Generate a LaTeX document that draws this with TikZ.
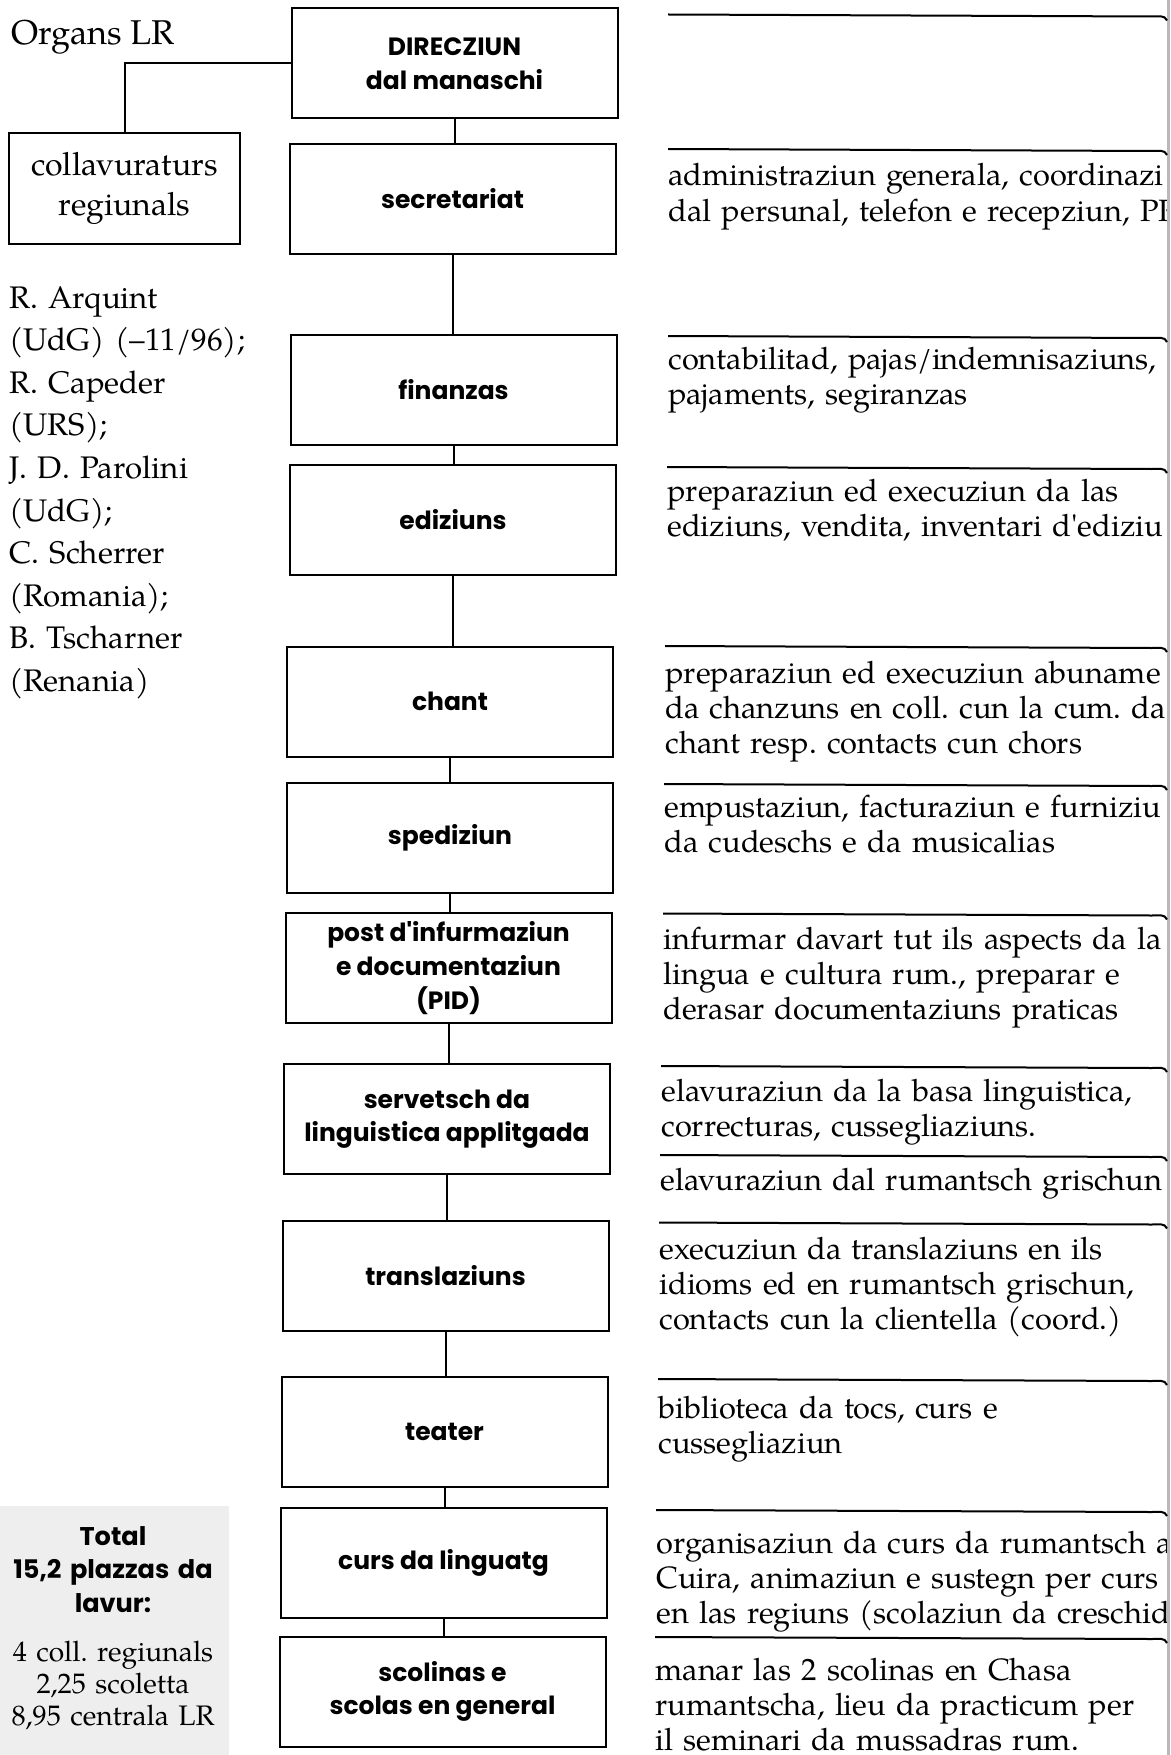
\documentclass[tikz,border=0pt]{standalone}
\usepackage{fontspec}
\setmainfont{TeX Gyre Pagella}[Ligatures=TeXOff]
\newfontfamily\boxfont{Poppins}
\frenchspacing
\tikzset{
  unitbox/.style={draw, line width=1pt, minimum width=163pt, minimum height=55pt,
    align=center, inner sep=0pt, font=\boxfont\bfseries\fontsize{12.5}{16.8}\selectfont},
  desc/.style={anchor=base west, text width=330pt, align=left, inner sep=0pt,
    font=\frenchspacing\fontsize{15.4}{17.5}\selectfont},
  sidetext/.style={anchor=base west, text width=160pt, align=left, inner sep=0pt,
    font=\frenchspacing\fontsize{15.6}{21.3}\selectfont},
  hrule/.style={line width=1pt},
  link/.style={line width=1pt},
}
\begin{document}
\begin{tikzpicture}[x=0.5pt,y=-0.5pt]
\useasboundingbox (0,0) rectangle (1171,1755);
\clip (0,0) rectangle (1171,1755);
\fill[white] (0,0) rectangle (1171,1755);
% total panel
\fill[gray!13] (0,1506) rectangle (229,1755);
% page edge
\draw[gray!55, line width=1.5pt] (1168,0) -- (1168,1755);

% main boxes
\node[unitbox] (dir) at (454.5,63.5) {DIRECZIUN\\dal manaschi};
\node[unitbox] (sec) at (452.5,199) {secretariat};
\node[unitbox] (fin) at (453.5,389.5) {finanzas};
\node[unitbox] (edi) at (453,520) {ediziuns};
\node[unitbox] (cha) at (450,701.5) {chant};
\node[unitbox] (spe) at (450,838) {spediziun};
\node[unitbox] (pid) at (448.5,968) {post d'infurmaziun\\e documentaziun\\(PID)};
\node[unitbox] (ser) at (447,1119) {servetsch da\\linguistica applitgada};
\node[unitbox] (tra) at (445.5,1276) {translaziuns};
\node[unitbox] (tea) at (444.5,1432) {teater};
\node[unitbox] (cur) at (443.5,1562.5) {curs da linguatg};
\node[unitbox] (sco) at (442.5,1691.5) {scolinas e\\scolas en general};

\foreach \a/\b in {dir/sec,sec/fin,fin/edi,edi/cha,cha/spe,spe/pid,pid/ser,ser/tra,tra/tea,tea/cur,cur/sco}
  \draw[link] (\a.south) -- (\a.south |- \b.north);

% left side
\node[anchor=base west, inner sep=0pt, font=\fontsize{17.2}{20}\selectfont] (org) at (11,45) {Organs LR};
\node[draw, line width=1pt, minimum width=115.5pt, minimum height=55.5pt, align=center,
  inner sep=0pt, font=\fontsize{16}{19.6}\selectfont] (col) at (124.5,188.5) {collavuraturs\\regiunals};
\draw[link] (dir.west) -| (col.north);

\node[sidetext] (names) at (9,308) {R. Arquint\\(UdG) (–11/96);\\R. Capeder\\(URS);\\J. D. Parolini\\(UdG);\\C. Scherrer\\(Romania);\\B. Tscharner\\(Renania)};

\node[anchor=base, text width=110pt, align=center, inner sep=0pt,
  font=\boxfont\bfseries\fontsize{12.8}{16.8}\selectfont] (tot) at (113,1545) {Total\\15,2 plazzas da\\lavur:};
\node[anchor=base, text width=112pt, align=center, inner sep=0pt,
  font=\fontsize{14.1}{16}\selectfont] (totn) at (113,1661) {4 coll. regiunals\\2,25 scoletta\\8,95 centrala LR};

% right side rules
\foreach \y/\x in {14.5/668,149/668,336/668,467/667,646/665,784/664,913.5/663,1066/661,1155/660,1222.5/659,1379/658,1510/656,1637/655}
  \draw[hrule] (\x,\y) -- (1152,\y+2) to[out=0,in=110] (1167,\y+6);

% right side texts
\begin{scope}
\clip (0,0) rectangle (1166,1755);
\node[desc] (tsec) at (668,186) {administraziun generala, coordinazi\\dal persunal, telefon e recepziun, PR};
\node[desc] (tfin) at (668,369) {contabilitad, pajas/indemnisaziuns,\\pajaments, segiranzas};
\node[desc] (tedi) at (667,501) {preparaziun ed execuziun da las\\ediziuns, vendita, inventari d'ediziu};
\node[desc] (tcha) at (665,683) {preparaziun ed execuziun abuname\\da chanzuns en coll. cun la cum. da\\chant resp. contacts cun chors};
\node[desc] (tspe) at (664,817) {empustaziun, facturaziun e furniziu\\da cudeschs e da musicalias};
\node[desc] (tpid) at (663,949) {infurmar davart tut ils aspects da la\\lingua e cultura rum., preparar e\\derasar documentaziuns praticas};
\node[desc] (tser) at (661,1101.5) {elavuraziun da la basa linguistica,\\correcturas, cussegliaziuns.};
\node[desc] (tser2) at (660,1190) {elavuraziun dal rumantsch grischun};
\node[desc] (ttra) at (659,1259.5) {execuziun da translaziuns en ils\\idioms ed en rumantsch grischun,\\contacts cun la clientella (coord.)};
\node[desc] (ttea) at (658,1418.5) {biblioteca da tocs, curs e\\cussegliaziun};
\node[desc] (tcur) at (656,1553) {organisaziun da curs da rumantsch a\\Cuira, animaziun e sustegn per curs\\en las regiuns (scolaziun da creschids};
\node[desc] (tsco) at (655,1680.5) {manar las 2 scolinas en Chasa\\rumantscha, lieu da practicum per\\il seminari da mussadras rum.};
\end{scope}
\end{tikzpicture}
\end{document}
